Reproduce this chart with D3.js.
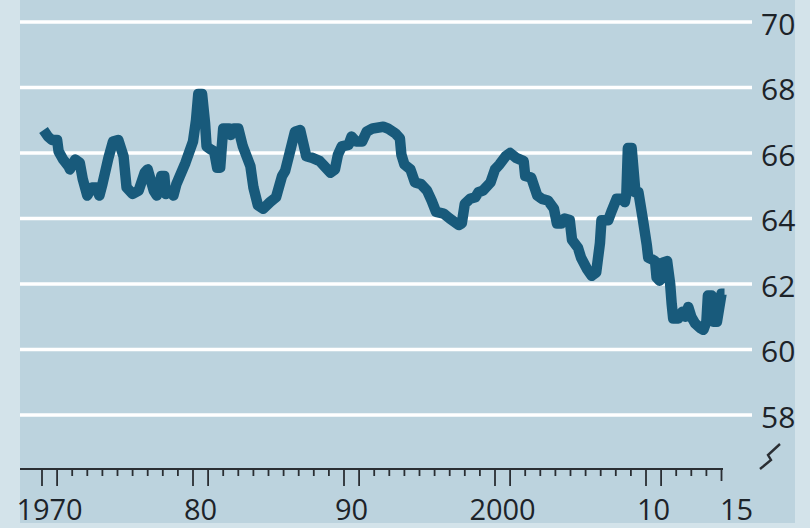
<!DOCTYPE html>
<html>
<head>
<meta charset="utf-8">
<script src="https://cdn.jsdelivr.net/npm/d3@7"></script>
<style>
  html, body { margin: 0; padding: 0; background: #d3e3ea; }
  svg { display: block; }
  text { font-family: "Open Sans", "Noto Sans", sans-serif; fill: #1d2329; }
</style>
</head>
<body>
<svg id="chart" width="810" height="528"></svg>
<script>
// ---- data ----
const years = [
  1970.1,1970.4,1970.65,1971.0,1971.1,1971.4,1971.75,1971.85,1972.2,1972.5,
  1972.7,1973.0,1973.3,1973.6,1973.8,1974.0,1974.4,1974.7,1975.05,1975.4,
  1975.6,1976.0,1976.4,1976.8,1977.0,1977.4,1977.6,1977.9,1978.1,1978.2,
  1978.5,1978.7,1978.9,1979.5,1980.0,1980.2,1980.35,1980.6,1980.8,1980.9,
  1981.2,1981.4,1981.6,1981.8,1982.0,1982.4,1982.5,1982.7,1983.0,1983.3,
  1983.8,1984.0,1984.3,1984.65,1985.1,1985.5,1985.9,1986.1,1986.4,1986.75,
  1987.1,1987.3,1987.5,1987.9,1988.4,1988.7,1989.1,1989.4,1989.6,1989.85,
  1990.3,1990.5,1990.8,1991.2,1991.5,1991.9,1992.6,1992.9,1993.4,1993.7,
  1993.8,1994.0,1994.4,1994.7,1995.1,1995.5,1995.8,1996.1,1996.6,1997.0,
  1997.6,1997.8,1998.0,1998.35,1998.7,1998.9,1999.2,1999.7,2000.0,2000.3,
  2000.7,2001.0,2001.4,2001.9,2002.0,2002.4,2002.8,2003.1,2003.5,2003.9,
  2004.1,2004.4,2004.6,2004.95,2005.1,2005.5,2005.7,2006.1,2006.4,2006.7,
  2006.95,2007.05,2007.5,2007.7,2008.05,2008.4,2008.6,2008.7,2008.8,2009.05,
  2009.3,2009.5,2009.8,2010.05,2010.15,2010.4,2010.6,2010.7,2010.9,2011.1,
  2011.4,2011.6,2011.7,2011.8,2012.15,2012.4,2012.6,2012.8,2013.0,2013.25,
  2013.6,2013.8,2014.0,2014.1,2014.35,2014.45,2014.7,2015.0,2015.2
];
const values = [
  66.7,66.5,66.4,66.4,66.05,65.8,65.6,65.5,65.8,65.7,
  65.2,64.7,64.95,64.95,64.7,65.05,65.85,66.35,66.4,65.9,
  64.95,64.75,64.85,65.4,65.5,64.85,64.7,65.3,65.3,64.75,
  64.85,64.7,65.05,65.7,66.35,67.0,67.8,67.8,66.9,66.2,
  66.1,66.05,65.55,65.55,66.75,66.75,66.55,66.75,66.75,66.2,
  65.6,64.95,64.4,64.3,64.5,64.65,65.3,65.45,66.0,66.65,
  66.7,66.3,65.9,65.85,65.75,65.6,65.4,65.5,65.95,66.2,
  66.25,66.5,66.35,66.35,66.65,66.75,66.8,66.75,66.6,66.45,
  65.95,65.65,65.5,65.1,65.05,64.85,64.55,64.2,64.15,64.0,
  63.8,63.85,64.45,64.6,64.65,64.8,64.85,65.1,65.5,65.65,
  65.9,66.0,65.85,65.75,65.3,65.25,64.7,64.6,64.55,64.3,
  63.85,63.85,64.0,63.95,63.35,63.1,62.8,62.45,62.25,62.35,
  63.25,63.95,63.95,64.2,64.6,64.6,64.5,64.75,66.15,66.15,
  64.8,64.8,63.95,63.2,62.8,62.75,62.7,62.2,62.1,62.65,
  62.7,62.0,61.4,60.95,60.95,61.15,61.0,61.3,61.0,60.8,
  60.65,60.6,60.85,61.65,61.65,60.85,60.85,61.7,61.7
];
const yTicks = [58, 60, 62, 64, 66, 68, 70];
const xLabels = ["1970", "80", "90", "2000", "10", "15"];
const xLabelYears = [1970.5, 1980.5, 1990.5, 2000.5, 2010.5, 2016];
const tickYears = d3.range(1970, 2016);

// ---- layout ----
const W = 810, H = 528;
const svg = d3.select("#chart");

const x = d3.scaleLinear().domain([1970, 2015]).range([42, 721.5]);
const y = d3.scaleLinear().domain([58, 70]).range([415, 22]);

// backgrounds
svg.append("rect").attr("x", 0).attr("y", 0).attr("width", W).attr("height", H).attr("fill", "#d3e3ea");
svg.append("rect").attr("x", 20).attr("y", 0).attr("width", 775).attr("height", 523).attr("fill", "#bcd3de");

// gridlines
svg.append("g").selectAll("line").data(yTicks).join("line")
  .attr("x1", 20).attr("x2", 752)
  .attr("y1", d => y(d)).attr("y2", d => y(d))
  .attr("stroke", "#ffffff").attr("stroke-width", 3.5);

// y labels
svg.append("g").selectAll("text").data(yTicks).join("text")
  .attr("x", 761).attr("y", d => y(d) + 12.5)
  .attr("font-size", 30)
  .text(d => d);

// x axis line
svg.append("line").attr("x1", 20).attr("x2", x(2015) + 1.5)
  .attr("y1", 469).attr("y2", 469)
  .attr("stroke", "#2a2e33").attr("stroke-width", 2);

// ticks
svg.append("g").selectAll("line").data(tickYears).join("line")
  .attr("x1", d => x(d)).attr("x2", d => x(d))
  .attr("y1", 469)
  .attr("y2", d => (d % 10 === 0 || d % 10 === 1) ? 486 : (d === 2015 ? 481 : 476))
  .attr("stroke", "#2a2e33").attr("stroke-width", 1.8);

// x labels
svg.append("g").selectAll("text").data(xLabels).join("text")
  .attr("x", (d, i) => x(xLabelYears[i]))
  .attr("y", 520)
  .attr("text-anchor", "middle")
  .attr("font-size", 29)
  .text(d => d);

// axis break symbol
svg.append("path")
  .attr("d", "M760,469 L771,460 L768,455 L780,444")
  .attr("fill", "none").attr("stroke", "#2a2e33").attr("stroke-width", 2.4)
  .attr("stroke-linejoin", "miter");

// line
const pts = years.map((yr, i) => [yr, values[i]]);
const line = d3.line().x(d => x(d[0])).y(d => y(d[1]));
svg.append("path").datum(pts)
  .attr("d", line)
  .attr("fill", "none")
  .attr("stroke", "#185a7b")
  .attr("stroke-width", 10.5)
  .attr("stroke-linejoin", "round")
  .attr("stroke-linecap", "butt");
</script>
</body>
</html>
